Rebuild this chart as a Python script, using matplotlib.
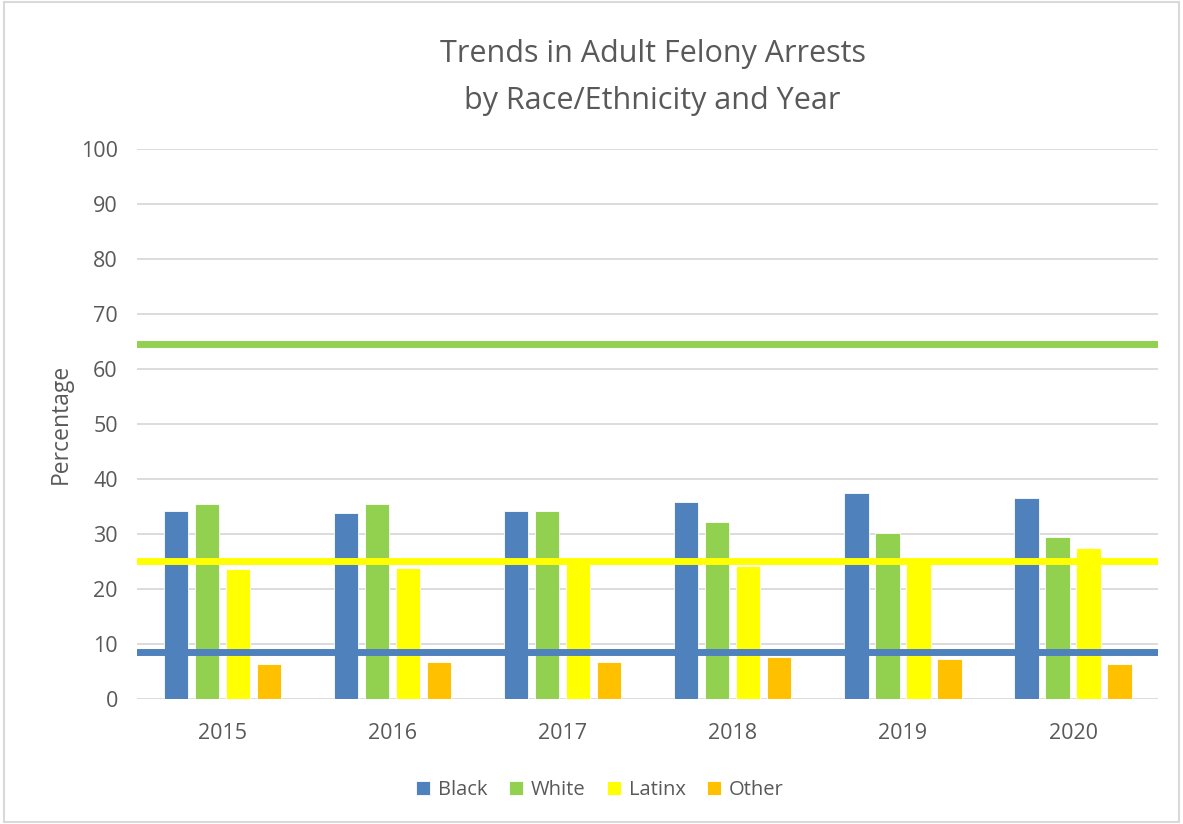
import matplotlib
matplotlib.use("Agg")
import matplotlib.pyplot as plt
import numpy as np
from matplotlib.patches import Rectangle

years = ["2015", "2016", "2017", "2018", "2019", "2020"]
series_names = ["Black", "White", "Latinx", "Other"]
black = [34.2, 33.8, 34.2, 35.8, 37.5, 36.5]
white = [35.5, 35.4, 34.2, 32.1, 30.1, 29.4]
latinx = [23.6, 23.8, 25.0, 24.2, 25.0, 27.5]
other = [6.4, 6.7, 6.7, 7.6, 7.3, 6.3]
# population reference lines
ref_white = 64.5
ref_latinx = 25.1
ref_black = 8.6

colors = ["#4f81bd", "#92d050", "#ffff00", "#ffc000"]
txt = "#595959"

plt.rcParams['font.family'] = ['Open Sans', 'DejaVu Sans']

fig = plt.figure(figsize=(11.83, 8.24), dpi=100)
ax = fig.add_axes([0.116, 0.1517, 0.979 - 0.116, 0.819 - 0.1517])

x = np.arange(len(years))
width = 0.143
step = 0.182
data = [black, white, latinx, other]
for i, (vals, c, name) in enumerate(zip(data, colors, series_names)):
    ax.bar(x + (i - 1.5) * step, vals, width=width, color=c, label=name,
           edgecolor="white", linewidth=0.6, zorder=3)

ax.axhline(ref_white, color=colors[1], lw=5, zorder=4)
ax.axhline(ref_latinx, color=colors[2], lw=5, zorder=4)
ax.axhline(ref_black, color=colors[0], lw=5, zorder=4)

ax.set_xlim(-0.5, 5.5)
ax.set_ylim(0, 100)
ax.set_yticks(range(0, 101, 10))
ax.set_xticks(x)
ax.set_xticklabels(years)
ax.yaxis.grid(True, color="#d9d9d9", lw=1.3, zorder=0)
ax.set_axisbelow(True)
for s in ax.spines.values():
    s.set_visible(False)
ax.tick_params(axis="both", length=0, labelsize=15.5, colors=txt)
ax.tick_params(axis="y", pad=14)
ax.tick_params(axis="x", pad=17)
ax.set_ylabel("Percentage", fontsize=16.5, color=txt, labelpad=6)

fig.text(0.5516, 0.935, "Trends in Adult Felony Arrests", ha="center", va="center",
         fontsize=22, color=txt)
fig.text(0.5516, 0.878, "by Race/Ethnicity and Year", ha="center", va="center",
         fontsize=22, color=txt)

leg = fig.legend(loc="center", bbox_to_anchor=(0.507, 0.041), ncol=4, frameon=False,
                 fontsize=14.5, handlelength=0.7, handleheight=0.7, handletextpad=0.4,
                 columnspacing=1.05)
for t in leg.get_texts():
    t.set_color(txt)

fig.patches.append(Rectangle((0.003, 0.003), 0.994, 0.994, transform=fig.transFigure,
                             fill=False, edgecolor="#d9d9d9", lw=1.5))

fig.savefig("out.png", dpi=100, facecolor="white")
